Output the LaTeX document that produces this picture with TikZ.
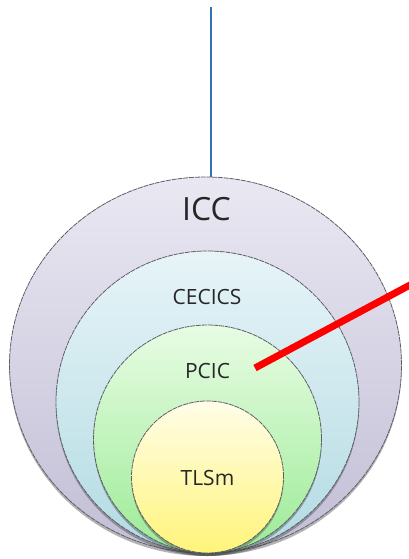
\documentclass[tikz,border=0pt]{standalone}
\usepackage{fontspec}
\setmainfont{Open Sans}
\usetikzlibrary{shapes.geometric,shadows}

\definecolor{ringline}{HTML}{5E5E66}
\definecolor{labeltext}{HTML}{262626}
\definecolor{wireblue}{HTML}{2F74B5}
\definecolor{iccTop}{HTML}{E9E8F2}
\definecolor{iccBot}{HTML}{C2BED6}
\definecolor{cecTop}{HTML}{E7F4F8}
\definecolor{cecBot}{HTML}{B2DBE2}
\definecolor{pcicTop}{HTML}{E8FCE4}
\definecolor{pcicBot}{HTML}{9CEB96}
\definecolor{tlsTop}{HTML}{FFFDE8}
\definecolor{tlsBot}{HTML}{FFF47A}

\tikzset{
  ring/.style={ellipse, inner sep=0pt, draw=ringline, line width=0.8pt,
    dash pattern=on 5pt off 0.8pt,
    drop shadow={shadow xshift=0pt, shadow yshift=-3pt, opacity=0.4, fill=black!75}},
  ringlabel/.style={text=labeltext, inner sep=0pt, font=\fontsize{21}{25}\selectfont},
  biglabel/.style={ringlabel, font=\fontsize{32}{38}\selectfont},
}

\begin{document}
\begin{tikzpicture}[x=1pt, y=-1pt]
  \useasboundingbox (0,0) rectangle (408,559);

  % nested rings, all touching at the bottom
  \node[ring, minimum width=392pt, minimum height=376pt,
        top color=iccTop, bottom color=iccBot] (icc) at (205.5,365) {};
  \node[ring, minimum width=303pt, minimum height=302pt,
        top color=cecTop, bottom color=cecBot] (cecics) at (207.5,402) {};
  \node[ring, minimum width=228pt, minimum height=228pt,
        top color=pcicTop, bottom color=pcicBot] (pcic) at (207.5,439) {};
  \node[ring, minimum width=152pt, minimum height=152pt,
        top color=tlsTop, bottom color=tlsBot] (tlsm) at (207.5,477) {};

  % ring labels
  \node[biglabel] (iccl) at (206.5,209) {ICC};
  \node[ringlabel] (cecicsl) at (207,297) {CECICS};
  \node[ringlabel] (pcicl) at (207.5,371) {PCIC};
  \node[ringlabel] (tlsml) at (207.5,478) {TLSm};

  % feed line into the outer ring
  \coordinate (wiretop) at (211,7);
  \draw[wireblue, line width=1.6pt] (wiretop) -- (wiretop |- icc.north);

  % red pointer into PCIC
  \coordinate (pointtip) at (255,368);
  \coordinate (pointfar) at (425,277);
  \draw[red, line width=7pt] (pointtip) -- (pointfar);
\end{tikzpicture}
\end{document}
